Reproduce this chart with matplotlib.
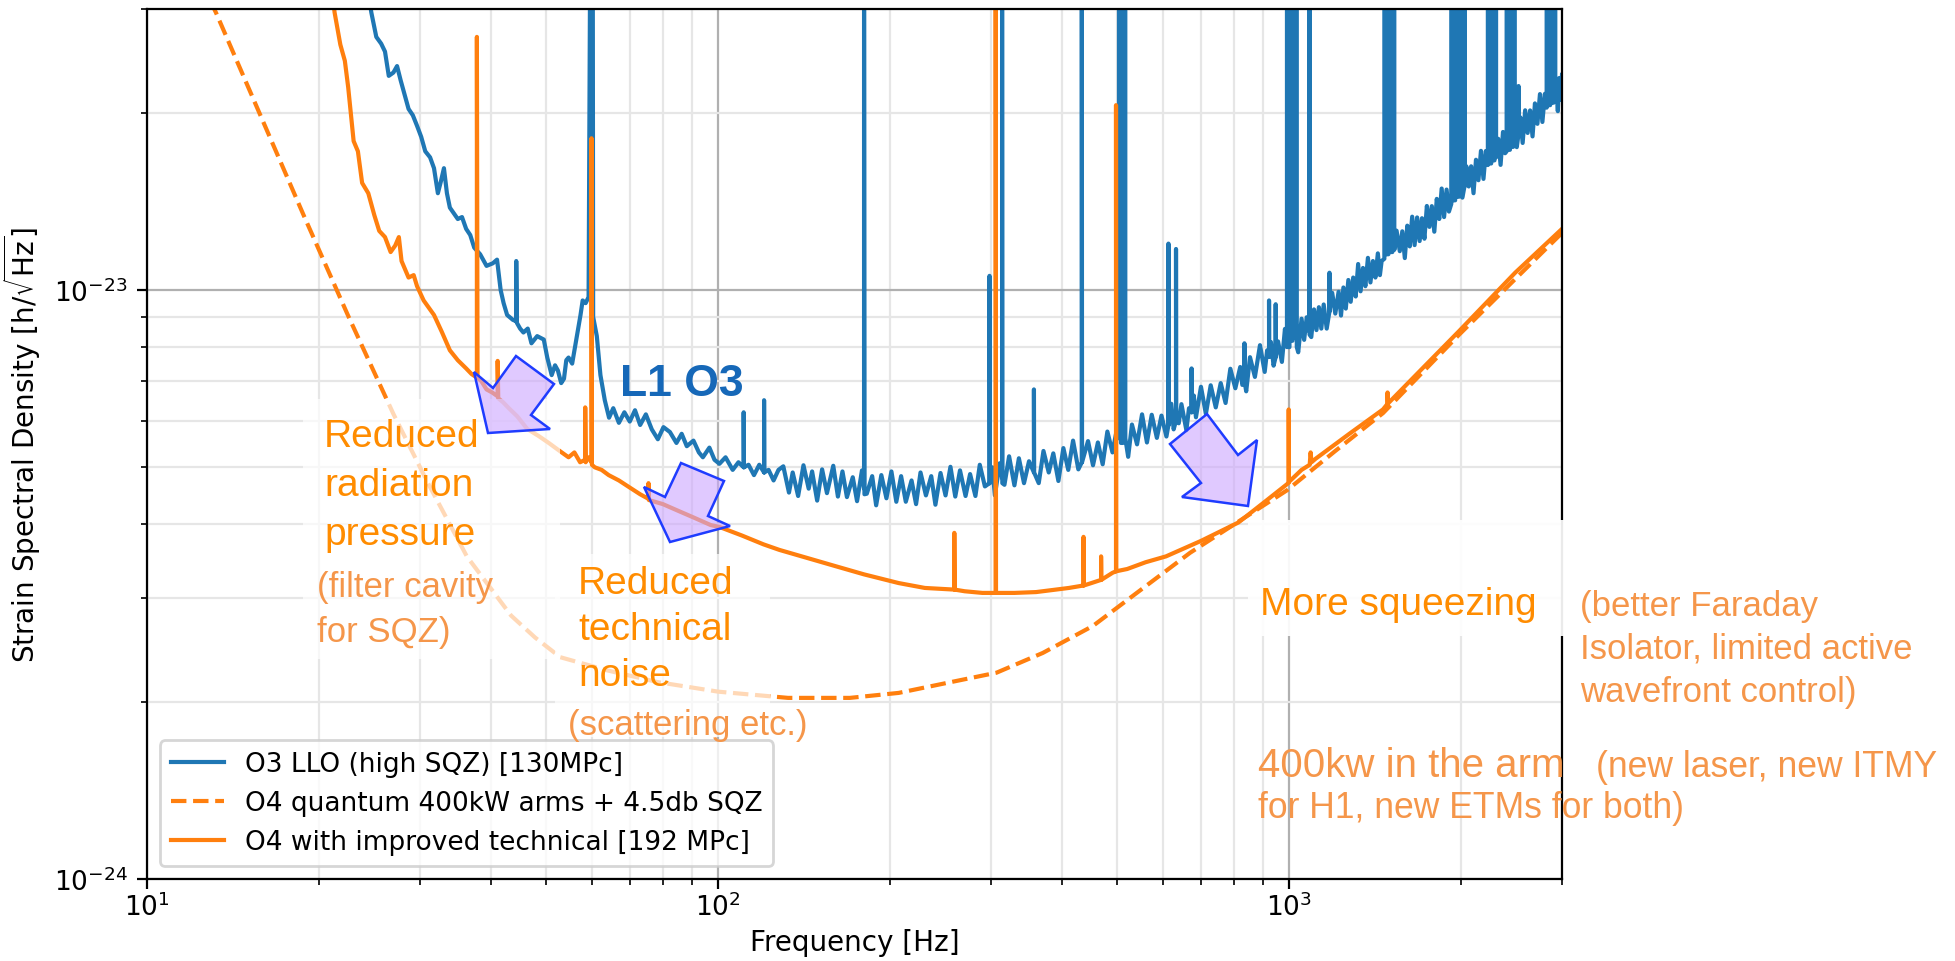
import numpy as np
import matplotlib
matplotlib.use("Agg")
import matplotlib.pyplot as plt
from matplotlib.patches import Polygon, Rectangle
from matplotlib.ticker import NullFormatter, FixedLocator

# ---------------- data: (frequency [Hz], ASD in units of 1e-24 /sqrt(Hz)) ----------------
o3_llo_low = np.array([
    (24.4, 32.0), (24.7, 29.6), (25.2, 26.9), (25.7, 26.2), (26.1, 25.4), (26.5, 23.1), (27.0, 23.4),
    (27.4, 24.0), (27.8, 22.7), (28.2, 21.6), (28.7, 20.3), (29.2, 19.8), (29.7, 19.0), (30.2, 18.2),
    (30.7, 17.2), (31.3, 16.8), (31.8, 16.1), (32.3, 14.6), (32.7, 15.3), (33.1, 16.1), (33.5, 14.6),
    (33.9, 13.8), (35.0, 13.2), (35.6, 13.3), (36.2, 12.7), (36.8, 12.4), (37.4, 11.8), (38.3, 11.5),
    (39.3, 10.99), (40.3, 11.1), (41.0, 11.26), (41.6, 10.0), (42.1, 9.5), (42.7, 9.07), (43.7, 8.9),
    (44.3, 8.85), (44.3, 11.2), (44.4, 8.8), (45.0, 8.6), (45.6, 8.47), (46.4, 8.6), (47.1, 8.12),
    (48.2, 8.35), (49.5, 8.24), (50.2, 7.68), (51.1, 7.17), (51.8, 7.45), (52.4, 7.3), (53.1, 6.95),
    (53.7, 7.07), (54.2, 7.6), (54.7, 7.68), (55.5, 7.5), (56.5, 8.3), (57.4, 9.07), (57.9, 9.6),
    (58.6, 9.5), (59.3, 9.73), (59.7, 40.0), (59.9, 9.6), (60.1, 40.0), (60.3, 40.0), (60.4, 9.0),
    (61.3, 8.35), (62.2, 7.17), (63.3, 6.5), (64.4, 6.07), (65.5, 6.3), (67.0, 5.95), (68.5, 6.2),
    (70.0, 5.98), (71.5, 6.25), (73.0, 5.9), (74.7, 6.15), (76.5, 5.8), (78.4, 5.58), (80.2, 5.85),
    (82.3, 5.74), (84.5, 5.5), (86.3, 5.7), (88.1, 5.43), (90.5, 5.55), (92.5, 5.3), (94.0, 5.2),
    (96.5, 5.4), (98.5, 5.15), (100.5, 5.07), (103.0, 5.2), (106.0, 4.95), (108.5, 5.1), (110.8, 5.0),
    (110.8, 6.2), (110.9, 5.0), (113.0, 5.05), (115.5, 4.85), (118.0, 5.05), (120.3, 4.9), (120.3, 6.5),
    (120.4, 4.9), (122.5, 4.95), (125.0, 4.75), (127.5, 4.95),
])

o3_llo_high = np.array([
    (130, 5.02), (133, 4.53), (135, 4.90), (138, 4.47), (141, 5.04), (144, 4.60), (146, 4.92),
    (149, 4.39), (152, 4.96), (155, 4.52), (159, 5.03), (162, 4.46), (165, 4.92), (168, 4.45),
    (172, 4.81), (175, 4.38), (178.5, 4.94), (180, 4.6), (180, 40.0), (180.3, 4.5), (182, 4.51),
    (186, 4.83), (189, 4.31), (193, 4.85), (197, 4.43), (201, 4.92), (205, 4.37), (209, 4.83),
    (213, 4.37), (218, 4.75), (222, 4.33), (226, 4.90), (231, 4.48), (236, 4.83), (240, 4.32),
    (245, 4.89), (250, 4.48), (255, 5.01), (260, 4.46), (265, 4.94), (271, 4.47), (276, 4.87),
    (282, 4.47), (287, 5.05), (293, 4.64), (298.5, 4.7), (298.5, 10.57), (298.8, 4.7), (302, 5.00),
    (305, 4.48), (311, 5.08), (314, 4.8), (314, 40.0), (314.3, 4.7), (317, 4.67), (323, 5.22),
    (330, 4.66), (336, 5.18), (343, 4.70), (350, 5.12), (357, 4.9), (357, 6.78), (357.3, 4.9),
    (364, 4.70), (371, 5.33), (379, 4.90), (386, 5.28), (394, 4.74), (402, 5.39), (410, 4.95),
    (418, 5.55), (427, 4.96), (433, 5.1), (433, 40.0), (433.4, 5.1), (444, 5.54), (453, 5.04),
    (462, 5.51), (471, 5.06), (480, 5.75), (490, 5.30), (497, 5.70), (503, 5.6), (503, 40.0),
    (507, 40.0), (507, 5.5), (511, 5.5), (511, 40.0), (516, 40.0), (516, 5.6), (522, 5.21),
    (530, 5.91), (541, 5.47), (552, 6.15), (563, 5.51), (574, 6.14), (586, 5.61), (597, 6.12),
    (609, 5.64), (614, 5.9), (614, 11.99), (614.4, 5.9), (621, 6.41), (627, 5.8), (633, 6.0),
    (633, 11.74), (633.4, 6.0), (640, 5.94), (647, 6.40), (660, 5.78), (667, 6.3), (674, 6.2),
    (674, 7.36), (674.4, 6.2), (680, 6.62), (686, 6.08), (700, 6.85), (714, 6.16), (728, 6.89),
    (743, 6.32), (758, 6.95), (773, 6.43), (788, 7.35), (804, 6.81), (820, 7.40), (827, 6.9),
    (834, 7.0), (834, 8.12), (834.4, 7.0), (840, 6.73), (853, 7.69), (870, 7.12), (888, 8.06),
    (905, 7.26), (914, 7.9), (921, 7.7), (921, 9.6), (921.4, 7.7), (928, 8.16), (938, 7.44),
    (946, 7.7), (946, 9.46), (946.4, 7.7), (955, 8.18), (970, 7.55), (982, 8.59), (990, 8.0),
    (990, 40.0), (995, 40.0), (995, 8.0), (1000, 8.0), (1000, 40.0), (1006, 40.0), (1006, 8.2),
    (1012, 8.2), (1012, 40.0), (1019, 40.0), (1019, 8.3), (1026, 8.3), (1026, 40.0), (1030, 40.0),
    (1030, 8.0), (1036, 7.84), (1050, 8.94), (1061, 8.23), (1072, 8.99), (1084, 8.5), (1084, 40.0),
    (1084.4, 8.4), (1092, 8.32), (1104, 9.27), (1115, 8.55), (1126, 9.35), (1137, 8.6), (1148, 9.45),
    (1162, 8.60), (1175, 9.2), (1175, 10.7), (1175.4, 9.2), (1188, 9.89), (1203, 9.12), (1219, 9.93),
    (1231, 9.05), (1243, 10.1), (1255, 9.3), (1268, 10.40), (1280, 9.55), (1293, 10.5), (1306, 9.75),
    (1319, 11.07), (1332, 9.95), (1345, 10.9), (1358, 10.15), (1372, 11.34), (1386, 10.3),
    (1400, 11.2), (1414, 10.5), (1428, 11.54), (1440, 10.6), (1450, 11.2), (1466, 11.3), (1466, 40.0),
    (1478, 40.0), (1478, 11.5), (1490, 11.5), (1490, 40.0), (1502, 40.0), (1502, 11.6), (1514, 11.6),
    (1514, 40.0), (1526, 40.0), (1526, 11.7), (1540, 12.61), (1560, 11.64), (1576, 12.58),
    (1592, 11.33), (1608, 12.86), (1624, 11.86), (1640, 13.32), (1656, 11.92), (1673, 13.28),
    (1690, 12.11), (1706, 13.24), (1723, 12.22), (1740, 13.89), (1758, 12.80), (1775, 13.88),
    (1793, 12.56), (1811, 14.28), (1829, 13.2), (1847, 14.87), (1865, 13.3), (1884, 14.81),
    (1902, 13.59), (1920, 14.0), (1920, 40.0), (1935, 40.0), (1935, 14.2), (1950, 14.2), (1950, 40.0),
    (1965, 40.0), (1965, 14.4), (1980, 14.4), (1980, 40.0), (1995, 40.0), (1995, 14.5), (2008, 14.35),
    (2025, 15.0), (2025, 40.0), (2025.5, 15.0), (2040, 16.22), (2060, 14.99), (2080, 16.22),
    (2100, 14.6), (2121, 16.64), (2142, 15.36), (2164, 17.23), (2186, 15.44), (2207, 17.22),
    (2225, 16.3), (2225, 40.0), (2240, 40.0), (2240, 16.4), (2255, 16.4), (2255, 40.0), (2270, 40.0),
    (2270, 16.6), (2285, 16.6), (2285, 40.0), (2300, 40.0), (2300, 16.8), (2320, 18.06), (2342, 16.31),
    (2365, 18.55), (2385, 17.07), (2400, 17.2), (2400, 40.0), (2416, 40.0), (2416, 17.3), (2432, 17.3),
    (2432, 40.0), (2448, 40.0), (2448, 17.5), (2464, 17.5), (2464, 40.0), (2480, 40.0), (2480, 17.8),
    (2500, 17.48), (2518, 18.4), (2518, 22.2), (2518.5, 18.4), (2536, 19.64), (2560, 17.77),
    (2586, 20.19), (2612, 18.48), (2638, 20.18), (2664, 18.23), (2690, 20.74), (2717, 19.15),
    (2745, 21.51), (2772, 19.29), (2800, 21.53), (2820, 20.4), (2820, 40.0), (2840, 40.0), (2840, 20.6),
    (2860, 20.6), (2860, 40.0), (2880, 40.0), (2880, 20.8), (2900, 20.8), (2900, 40.0), (2920, 40.0),
    (2920, 21.0), (2935, 21.84), (2950, 20.12), (2965, 22.9), (2980, 21.02), (3000, 23.19),
])

o4_quantum = np.array([
    (12.9, 31.0), (13.2, 29.6), (18.8, 13.4), (22.5, 9.04), (27.0, 6.16), (31.0, 4.71), (36.3, 3.53),
    (43.4, 2.8), (47.8, 2.57), (52.9, 2.38), (64.0, 2.26), (78.2, 2.16), (100.0, 2.08), (132.5, 2.03),
    (170.0, 2.03), (207.0, 2.07), (250.0, 2.15), (307.0, 2.24), (370.0, 2.42), (453.0, 2.69),
    (550.0, 3.10), (670.0, 3.58), (800.0, 4.0), (990.0, 4.57), (1200.0, 5.32), (1458.0, 6.18),
    (1982.0, 8.40), (2500.0, 10.5), (3000.0, 12.5),
])

o4_technical = np.array([
    (21.1, 32.0), (21.3, 29.6), (21.8, 26.1), (22.2, 24.5), (22.5, 22.1), (23.0, 17.9), (23.4, 17.2),
    (23.8, 15.2), (24.4, 14.6), (25.0, 13.4), (25.5, 12.6), (26.1, 12.3), (26.7, 11.6), (27.2, 11.9),
    (27.6, 12.3), (27.9, 11.2), (28.7, 10.5), (29.3, 10.6), (29.7, 10.15), (30.5, 9.6), (31.8, 9.07),
    (32.8, 8.5), (33.9, 7.9), (35.0, 7.6), (36.2, 7.36), (37.0, 7.2), (37.8, 7.1), (37.8, 26.9),
    (37.9, 7.1), (38.5, 7.0), (39.3, 6.78), (40.2, 6.7), (41.1, 6.6), (41.1, 7.58), (41.2, 6.55),
    (42.0, 6.45), (43.0, 6.3), (44.5, 6.1), (46.3, 5.81), (48.5, 5.65), (50.5, 5.5), (52.5, 5.35),
    (54.7, 5.2), (56.0, 5.3), (57.3, 5.1), (58.5, 5.15), (58.5, 6.32), (58.6, 5.1), (59.2, 5.2),
    (60.0, 5.1), (60.0, 18.1), (60.1, 5.05), (60.8, 5.0), (62.5, 4.95), (64.3, 4.85), (67.0, 4.75),
    (70.0, 4.62), (73.0, 4.5), (75.5, 4.42), (75.5, 4.7), (75.6, 4.4), (80.0, 4.33), (85.0, 4.22),
    (90.0, 4.12), (97.0, 3.99), (100.5, 3.96), (110.0, 3.83), (120.0, 3.70), (128.0, 3.62),
    (140.0, 3.53), (160.0, 3.40), (180.0, 3.29), (207.0, 3.18), (230.0, 3.12), (259.0, 3.1),
    (259.0, 3.87), (259.3, 3.1), (270.0, 3.08), (290.0, 3.06), (306.0, 3.06), (306.0, 40.0),
    (306.4, 3.06), (330.0, 3.06), (360.0, 3.07), (390.0, 3.10), (411.0, 3.12), (436.0, 3.15),
    (436.0, 3.81), (436.4, 3.15), (450.0, 3.18), (468.0, 3.22), (468.0, 3.53), (468.4, 3.22),
    (490.0, 3.31), (497.0, 3.33), (497.0, 20.6), (497.4, 3.33), (520.0, 3.36), (560.0, 3.45),
    (608.0, 3.53), (700.0, 3.75), (814.0, 4.03), (900.0, 4.35), (990.0, 4.68), (997.0, 4.71),
    (997.0, 6.27), (997.4, 4.72), (1050.0, 4.95), (1085.0, 5.05), (1089.0, 5.3), (1093.0, 5.1),
    (1111.0, 5.17), (1273.0, 5.70), (1458.0, 6.27), (1485.0, 6.41), (1485.0, 6.7), (1486.0, 6.41),
    (1709.0, 7.36), (1982.0, 8.52), (2484.0, 10.7), (3000.0, 12.7),
])

series_labels = ["O3 LLO (high SQZ) [130MPc]",
                 "O4 quantum 400kW arms + 4.5db SQZ",
                 "O4 with improved technical [192 MPc]"]
asd_unit = 1e-24
x_limits = (10, 3000)
y_limits = (1e-24, 3e-23)
x_major_ticks = [10, 100, 1000]
x_minor_ticks = [20, 30, 40, 50, 60, 70, 80, 90, 200, 300, 400, 500, 600, 700, 800, 900, 2000, 3000]
y_major_ticks = [1e-24, 1e-23]
y_minor_ticks = [2e-24, 3e-24, 4e-24, 5e-24, 6e-24, 7e-24, 8e-24, 9e-24, 2e-23, 3e-23]

# ---------------- figure ----------------
W, H, DPI = 1956, 962, 200
fig = plt.figure(figsize=(W / DPI, H / DPI), dpi=DPI)
ax = fig.add_axes([147 / W, 1 - 880 / H, (1562 - 147) / W, (880 - 10) / H])

BLUE = '#1f77b4'
ORANGE = '#ff7f0e'
o3 = np.vstack([o3_llo_low, o3_llo_high])
ax.loglog(o3[:, 0], o3[:, 1] * asd_unit, color=BLUE, lw=1.5, label=series_labels[0], zorder=2)
ax.loglog(o4_quantum[:, 0], o4_quantum[:, 1] * asd_unit, '--', color=ORANGE, lw=1.5,
          label=series_labels[1], zorder=2.1)
ax.loglog(o4_technical[:, 0], o4_technical[:, 1] * asd_unit, '-', color=ORANGE, lw=1.5,
          label=series_labels[2], zorder=2.2)

ax.set_xlim(*x_limits)
ax.set_ylim(*y_limits)
ax.xaxis.set_major_locator(FixedLocator(x_major_ticks))
ax.xaxis.set_minor_locator(FixedLocator(x_minor_ticks))
ax.yaxis.set_major_locator(FixedLocator(y_major_ticks))
ax.yaxis.set_minor_locator(FixedLocator(y_minor_ticks))
ax.yaxis.set_minor_formatter(NullFormatter())
ax.xaxis.set_minor_formatter(NullFormatter())
ax.grid(which='minor', color='#e6e6e6', lw=0.8)
ax.grid(which='major', color='#b0b0b0', lw=0.8)
ax.set_axisbelow(True)
ax.tick_params(labelsize=9.5)
ax.tick_params(axis='x', pad=1.5)
ax.set_xlabel('Frequency [Hz]', fontsize=10, labelpad=2.5)
ax.set_ylabel(r'Strain Spectral Density [h/$\sqrt{\mathrm{Hz}}$]', fontsize=10)
ax.legend(loc='lower left', fontsize=9.5)

# ---------------- annotations (figure pixel coordinates, origin top-left) ----------------
def fxy(x, y):
    return (x / W, 1 - y / H)

# translucent white boxes behind text labels
for (x0, y0, x1, y1, a) in [(303, 400, 560, 660, 0.7), (555, 555, 770, 738, 0.7),
                            (1248, 521, 1575, 637, 0.92)]:
    fig.add_artist(Rectangle(fxy(x0, y1), (x1 - x0) / W, (y1 - y0) / H,
                             transform=fig.transFigure, facecolor='white', alpha=a,
                             edgecolor='none', zorder=2))

arrow_shapes = [
    [(516, 357), (554, 385), (531, 416), (550, 430), (488, 434), (474, 373), (493, 389)],
    [(681, 464), (724, 482), (708, 517), (730, 527), (670, 543), (644, 488), (665, 498)],
    [(1170, 445), (1207, 415), (1238, 456), (1257, 441), (1248, 507), (1182, 498), (1201, 484)],
]
for shape in arrow_shapes:
    fig.add_artist(Polygon([fxy(x, y) for x, y in shape], closed=True, transform=fig.transFigure,
                           facecolor=(0.80, 0.65, 1.0, 0.6), edgecolor='#1f3cff', lw=0.9,
                           zorder=3))

HEAD = '#ff8c00'
NOTE = '#f5964a'
SANS = ['Liberation Sans', 'DejaVu Sans']


def put(x, y, s, size, color, weight='normal'):
    fig.text(*fxy(x, y), s, fontsize=size, color=color, family=SANS, fontweight=weight,
             ha='left', va='baseline', zorder=5)


put(620, 396, 'L1 O3', 16, '#1668b8', 'bold')
for i, line in enumerate(['Reduced', 'radiation', 'pressure']):
    put(324, 447 + 49 * i, line, 14, HEAD)
for i, line in enumerate(['(filter cavity', 'for SQZ)']):
    put(317, 597 + 45 * i, line, 12.5, NOTE)
for i, line in enumerate(['Reduced', 'technical', 'noise']):
    put(578, 594 + 46 * i, line, 14, HEAD)
put(568, 735, '(scattering etc.)', 12.5, NOTE)
put(1260, 615, 'More squeezing', 14, HEAD)
for i, line in enumerate(['(better Faraday', 'Isolator, limited active', 'wavefront control)']):
    put(1580, 616 + 43 * i, line, 12.5, NOTE)
put(1258, 777, '400kw in the arm', 14.5, NOTE)
put(1596, 777, '(new laser, new ITMY', 12.8, NOTE)
put(1258, 818, 'for H1, new ETMs for both)', 12.8, NOTE)

fig.savefig('out.png', dpi=DPI)
